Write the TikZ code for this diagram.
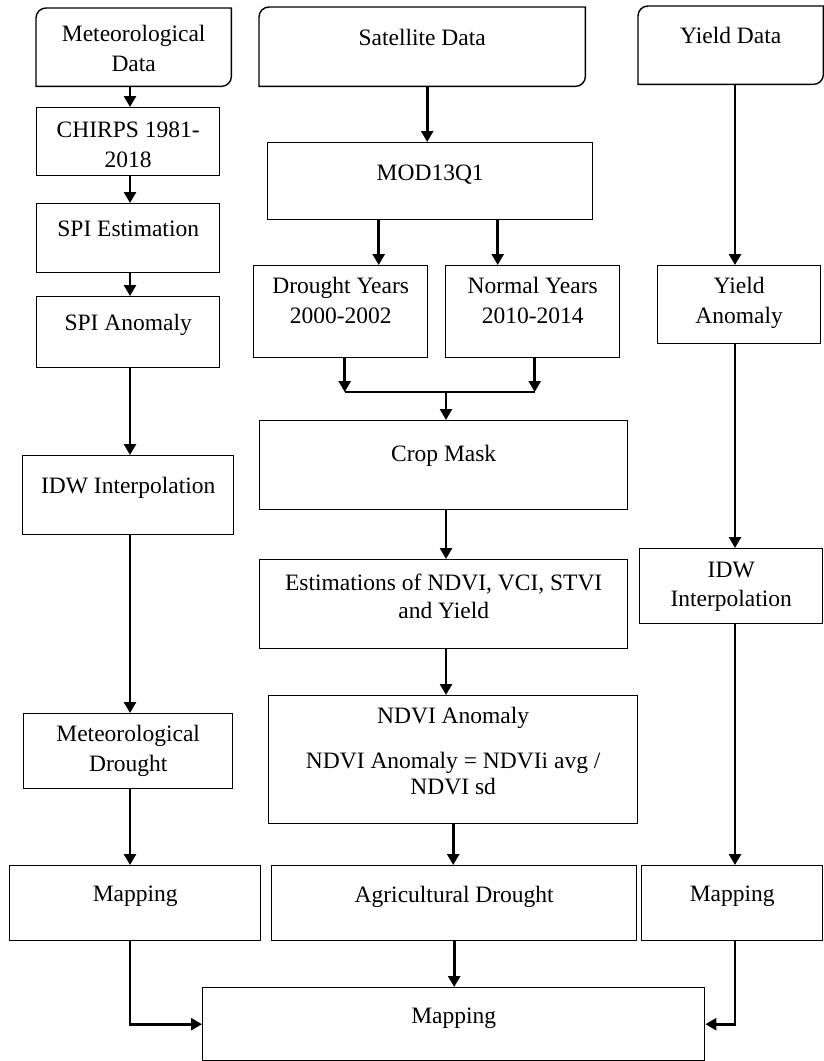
\documentclass[tikz,border=0pt]{standalone}
\usepackage{fontspec}
\setmainfont{Liberation Serif}
\usetikzlibrary{arrows.meta, positioning, calc}

\begin{document}
\begin{tikzpicture}[
  x=1pt, y=1pt,
  box/.style={rectangle, draw=black, line width=1.4pt, anchor=north west, inner xsep=0pt, inner ysep=0pt, minimum width=#1, align=center, font=\fontsize{23.5}{30}\selectfont},
  databox/.style={box=#1, draw=none},
  arr/.style={-{Triangle[length=11pt, width=12pt]}, line width=2.6pt},
  link/.style={line width=2.6pt},
]
  \useasboundingbox (0,0) rectangle (824,-1061);

  % Meteorological column (left)
  \node[databox=194pt, text height=63pt, text depth=14pt] (metdata) at (36,-8) {Meteorological\\Data};
  \node[box=183pt, text height=60pt, text depth=8pt] (chirps) at (36,-107) {CHIRPS 1981-\\2018};
  \node[box=183pt, text height=33pt, text depth=36pt] (spiest) at (36,-203) {SPI Estimation};
  \node[box=183pt, text height=34pt, text depth=37pt] (spianom) at (36,-296) {SPI Anomaly};
  \node[box=211pt, text height=38pt, text depth=41pt] (idwmet) at (22,-455) {IDW Interpolation};
  \node[box=209pt, text height=58pt, text depth=17pt] (metdrought) at (23,-713) {Meteorological\\Drought};
  \node[box=251pt, text height=36pt, text depth=39pt] (mapmet) at (9,-865) {Mapping};

  % Satellite column (middle)
  \node[databox=325pt, text height=38pt, text depth=40pt] (satdata) at (259,-7) {Satellite Data};
  \node[box=325pt, text height=38pt, text depth=39pt] (mod) at (267,-142) {MOD13Q1};
  \node[box=174pt, text height=58pt, text depth=34pt] (drought) at (253,-265) {Drought Years\\2000-2002};
  \node[box=174pt, text height=58pt, text depth=34pt] (normal) at (445,-265) {Normal Years\\2010-2014};
  \node[box=368pt, text height=41pt, text depth=48pt] (cropmask) at (259,-420) {Crop Mask};
  \node[box=368pt, text height=59pt, text depth=30pt] (estim) at (259,-559) {Estimations of NDVI, VCI, STVI\\[-2pt]and Yield};
  \node[box=369pt, text height=99pt, text depth=29pt] (ndvi) at (268,-695) {NDVI Anomaly\\[15pt]NDVI Anomaly = NDVIi avg /\\[-4pt]NDVI sd};
  \node[box=365pt, text height=37pt, text depth=38pt] (agri) at (271,-865) {Agricultural Drought};

  % Yield column (right)
  \node[databox=184pt, text height=37pt, text depth=40pt] (yielddata) at (638,-6) {Yield Data};
  \node[box=163pt, text height=58pt, text depth=20pt] (yieldanom) at (657,-265) {Yield\\Anomaly};
  \node[box=183pt, text height=58pt, text depth=17pt] (idwyield) at (639,-548) {IDW\\[-1pt]Interpolation};
  \node[box=181pt, text height=36pt, text depth=39pt] (mapyield) at (641,-865) {Mapping};

  % Final map
  \node[box=502pt, text height=36pt, text depth=37pt] (mapfinal) at (202,-987) {Mapping};

  % data sources: two rounded corners
  \foreach \n in {metdata, satdata, yielddata}
    \draw[line width=1.4pt] (\n.north east) -- ([xshift=10pt]\n.north west)
      arc[start angle=90, end angle=180, radius=10pt] -- (\n.south west)
      -- ([xshift=-10pt]\n.south east) arc[start angle=270, end angle=360, radius=10pt] -- cycle;

  % left arrows
  \coordinate (lcol) at (130,0);
  \foreach \a/\b in {metdata/chirps, chirps/spiest, spiest/spianom, spianom/idwmet, idwmet/metdrought, metdrought/mapmet}
    \draw[arr] (lcol |- \a.south) -- (lcol |- \b.north);
  \draw[arr] (lcol |- mapmet.south) -- (lcol |- mapfinal.west) -- (mapfinal.west);

  % middle arrows
  \coordinate (join) at (446,-392);
  \draw[arr] ([xshift=5pt]satdata.south) -- ([xshift=5pt]satdata.south |- mod.north);
  \draw[arr] ([xshift=38pt]drought.north |- mod.south) -- ([xshift=38pt]drought.north);
  \draw[arr] ([xshift=-35pt]normal.north |- mod.south) -- ([xshift=-35pt]normal.north);
  \draw[arr] ([xshift=4pt]drought.south) -- ([xshift=4pt]drought.south |- join);
  \draw[arr] ([xshift=2pt]normal.south) -- ([xshift=2pt]normal.south |- join);
  \draw[link] ([xshift=4pt]drought.south |- join) -- ([xshift=2pt]normal.south |- join);
  \draw[arr] (join) -- (join |- cropmask.north);
  \draw[arr] (join |- cropmask.south) -- (join |- estim.north);
  \draw[arr] (join |- estim.south) -- (join |- ndvi.north);
  \draw[arr] (ndvi.south) -- (ndvi.south |- agri.north);
  \draw[arr] (agri.south) -- (agri.south |- mapfinal.north);

  % right arrows
  \coordinate (rcol) at (735,0);
  \draw[arr] (rcol |- yielddata.south) -- (rcol |- yieldanom.north);
  \draw[arr] (rcol |- yieldanom.south) -- (rcol |- idwyield.north);
  \draw[arr] (rcol |- idwyield.south) -- (rcol |- mapyield.north);
  \draw[arr] (rcol |- mapyield.south) -- (rcol |- mapfinal.east) -- (mapfinal.east);
\end{tikzpicture}
\end{document}
